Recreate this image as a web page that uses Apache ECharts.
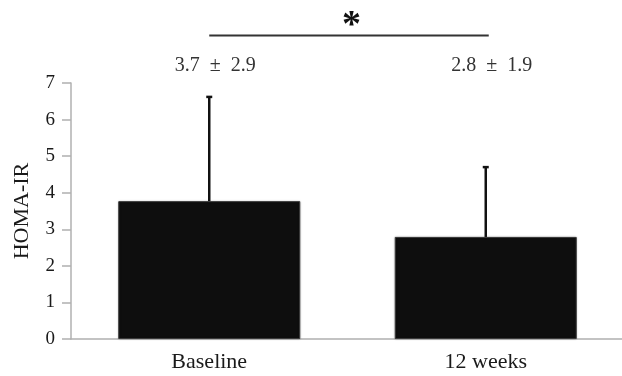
<!DOCTYPE html>
<html><head><meta charset="utf-8">
<script src="https://cdn.jsdelivr.net/npm/echarts@6/dist/echarts.min.js"></script>
<style>html,body{margin:0;padding:0;background:#fff}#c{width:622px;height:376px}</style>
</head><body><div id="c"></div>
<script>
const categories = ['Baseline', '12 weeks'];
const means = [3.77, 2.79];
const upperErr = [6.62, 4.7];
const annotations = ['3.7 ± 2.9', '2.8 ± 1.9'];
const yTicks = [0, 1, 2, 3, 4, 5, 6, 7];
const sigLabel = '*';
const sigLevel = 8.3;
const annotLevel = 7.5;

const font = '"Liberation Serif", "Times New Roman", serif';
const chart = echarts.init(document.getElementById('c'));
chart.setOption({
  animation: false,
  grid: {left: 71, width: 553, top: 83, height: 256, containLabel: false, outerBoundsMode: 'none'},
  xAxis: {
    type: 'category', data: categories,
    axisLine: {lineStyle: {color: '#b0b0b0', width: 1.5}},
    axisTick: {show: false},
    axisLabel: {fontFamily: font, fontSize: 22, color: '#1a1a1a', margin: 12}
  },
  yAxis: {
    type: 'value', min: yTicks[0], max: yTicks[yTicks.length - 1], interval: 1,
    name: 'HOMA-IR', nameLocation: 'middle', nameRotate: 90, nameGap: 38,
    nameTextStyle: {fontFamily: font, fontSize: 22, color: '#1a1a1a'},
    axisLine: {show: true, lineStyle: {color: '#b0b0b0', width: 1.5}},
    axisTick: {show: true, inside: false, length: 9, lineStyle: {color: '#b0b0b0', width: 1.5}},
    axisLabel: {fontFamily: font, fontSize: 19, color: '#1a1a1a', margin: 16},
    splitLine: {show: false}
  },
  series: [
    {
      type: 'bar', data: means, barWidth: 182,
      itemStyle: {
        color: '#0e0e0e', borderColor: '#3a3a3a', borderWidth: 1,
        shadowColor: 'rgba(0,0,0,0.25)', shadowBlur: 2
      },
      z: 2
    },
    {
      type: 'custom', z: 3, clip: false,
      data: categories.map((c, i) => [i, means[i], upperErr[i]]),
      renderItem: function (params, api) {
        const base = api.coord([api.value(0), api.value(1)]);
        const top = api.coord([api.value(0), api.value(2)]);
        return {
          type: 'group', children: [
            {type: 'line', shape: {x1: base[0], y1: base[1], x2: top[0], y2: top[1]}, style: {stroke: '#111', lineWidth: 2.5}},
            {type: 'line', shape: {x1: top[0] - 3, y1: top[1], x2: top[0] + 3, y2: top[1]}, style: {stroke: '#111', lineWidth: 2.5}}
          ]
        };
      }
    },
    {
      type: 'custom', z: 3, clip: false,
      data: categories.map((c, i) => [i, annotLevel]),
      renderItem: function (params, api) {
        const p = api.coord([api.value(0), api.value(1)]);
        return {
          type: 'text',
          style: {
            x: p[0] + 6, y: p[1] + 1, text: annotations[params.dataIndex].replace(/ /g, '\u00a0\u00a0'),
            font: '20px ' + font, fill: '#333', align: 'center', verticalAlign: 'middle'
          }
        };
      }
    },
    {
      type: 'custom', z: 3, clip: false,
      data: [[0, 1, sigLevel]],
      renderItem: function (params, api) {
        const a = api.coord([api.value(0), api.value(2)]);
        const b = api.coord([api.value(1), api.value(2)]);
        return {
          type: 'group', children: [
            {type: 'line', shape: {x1: a[0], y1: a[1], x2: b[0] + 3, y2: b[1]}, style: {stroke: '#333', lineWidth: 2}},
            {type: 'text', style: {x: (a[0] + b[0]) / 2 + 4, y: a[1] + 10, text: sigLabel,
              font: 'bold 38px ' + font, fill: '#111', align: 'center', verticalAlign: 'bottom'}}
          ]
        };
      }
    }
  ]
});
</script>
</body></html>
